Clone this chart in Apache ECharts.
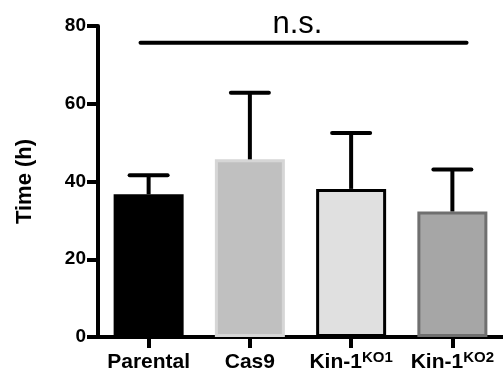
<!DOCTYPE html>
<html>
<head>
<meta charset="utf-8">
<script src="https://cdn.jsdelivr.net/npm/echarts@6/dist/echarts.min.js"></script>
<style>html,body{margin:0;padding:0;background:#fff}#c{width:503px;height:375px}</style>
</head>
<body>
<div id="c"></div>
<script>
var categories = ['Parental', 'Cas9', 'Kin-1|KO1', 'Kin-1|KO2'];
var meanValues = [36.7, 45.7, 38.1, 32.3];
var errorTops = [41.6, 62.8, 52.5, 43.1];
var barFills = ['#000000', '#c0c0c0', '#e0e0e0', '#a6a6a6'];
var barBorders = ['#000000', '#d6d6d6', '#000000', '#6f6f6f'];
var sigX = [-0.08, 3.14];
var sigY = 75.7;
var sigLabel = 'n.s.';
var sigLabelX = 1.47;
var sigLabelY = 80.5;

var FONT = '"Liberation Sans", Arial, sans-serif';
var chart = echarts.init(document.getElementById('c'), null, {renderer: 'canvas'});

var barData = meanValues.map(function (v, i) {
  return {value: v, itemStyle: {color: barFills[i], borderColor: barBorders[i], borderWidth: 3}};
});
var errData = meanValues.map(function (v, i) { return [i, v, errorTops[i]]; });

chart.setOption({
  animation: false,
  grid: {left: 98, right: -11, top: 26, bottom: 38, containLabel: false},
  xAxis: [{
    type: 'category',
    data: categories,
    boundaryGap: true,
    position: 'bottom',
    axisLine: {show: true, onZero: false, lineStyle: {color: '#000', width: 4}},
    axisTick: {show: true, alignWithLabel: true, length: 11, lineStyle: {color: '#000', width: 4}},
    axisLabel: {
      interval: 0,
      margin: 13,
      color: '#000',
      fontFamily: FONT,
      fontWeight: 'bold',
      fontSize: 21,
      formatter: function (v) {
        var p = v.split('|');
        if (p.length === 1) return '{b|' + p[0] + '}';
        return '{b|' + p[0] + '}{s|' + p[1] + '}';
      },
      rich: {
        b: {fontFamily: FONT, fontWeight: 'bold', fontSize: 21, color: '#000', lineHeight: 24},
        s: {fontFamily: FONT, fontWeight: 'bold', fontSize: 15, color: '#000', verticalAlign: 'top', lineHeight: 14}
      }
    },
    splitLine: {show: false}
  }, {
    type: 'value', min: -0.5, max: 3.5, show: false, position: 'top',
    axisLine: {onZero: false}
  }],
  yAxis: {
    type: 'value',
    min: 0, max: 80, interval: 20,
    name: 'Time (h)',
    nameLocation: 'middle',
    nameGap: 62,
    nameRotate: 90,
    nameTextStyle: {color: '#000', fontFamily: FONT, fontWeight: 'bold', fontSize: 22},
    axisLine: {show: true, onZero: false, lineStyle: {color: '#000', width: 4}},
    axisTick: {show: true, length: 11, lineStyle: {color: '#000', width: 4}},
    axisLabel: {
      margin: 12, color: '#000', fontFamily: FONT, fontWeight: 'bold', fontSize: 19
    },
    splitLine: {show: false}
  },
  series: [{
    type: 'bar',
    data: barData,
    barWidth: 70,
    z: 2
  }, {
    type: 'custom',
    data: errData,
    z: 3,
    renderItem: function (params, api) {
      var b = api.coord([api.value(0), api.value(1)]);
      var t = api.coord([api.value(0), api.value(2)]);
      var hw = 19;
      return {type: 'group', children: [
        {type: 'line', shape: {x1: b[0], y1: b[1], x2: t[0], y2: t[1]}, style: {stroke: '#000', lineWidth: 4}},
        {type: 'line', shape: {x1: t[0] - hw, y1: t[1], x2: t[0] + hw, y2: t[1]}, style: {stroke: '#000', lineWidth: 4, lineCap: 'round'}}
      ]};
    }
  }, {
    type: 'custom',
    xAxisIndex: 1,
    data: [[sigX[0], sigX[1], sigY, sigLabelX, sigLabelY]],
    z: 3,
    renderItem: function (params, api) {
      var a = api.coord([api.value(0), api.value(2)]);
      var b = api.coord([api.value(1), api.value(2)]);
      var l = api.coord([api.value(3), api.value(4)]);
      return {type: 'group', children: [
        {type: 'line', shape: {x1: a[0], y1: a[1], x2: b[0], y2: b[1]}, style: {stroke: '#000', lineWidth: 4, lineCap: 'round'}},
        {type: 'text', x: l[0], y: l[1], style: {text: sigLabel, fill: '#000', font: '31px ' + FONT, align: 'center', verticalAlign: 'middle'}}
      ]};
    }
  }]
});
</script>
</body>
</html>
